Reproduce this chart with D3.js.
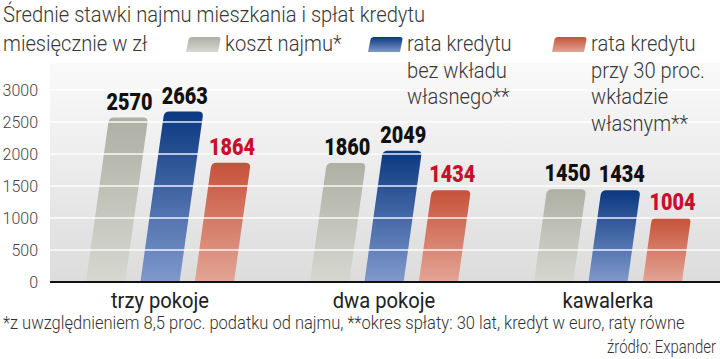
<!DOCTYPE html>
<html><head><meta charset="utf-8">
<script src="https://cdn.jsdelivr.net/npm/d3@7"></script>
<style>
body{margin:0;background:#fff;}
svg{display:block;}
text{font-family:Roboto,"Liberation Sans",sans-serif;font-weight:300;}
</style></head>
<body><svg id="c" width="720" height="359"></svg>
<script>
const categories = ["trzy pokoje", "dwa pokoje", "kawalerka"];
const seriesNames = ["koszt najmu*", "rata kredytu bez wkładu własnego**", "rata kredytu przy 30 proc. wkładzie własnym**"];
const rentValues = [2570, 1860, 1450];
const noDownValues = [2663, 2049, 1434];
const down30Values = [1864, 1434, 1004];
const yTicks = [0, 500, 1000, 1500, 2000, 2500, 3000];
const legendLines = [["koszt najmu*"], ["rata kredytu", "bez wkładu", "własnego**"], ["rata kredytu", "przy 30 proc.", "wkładzie", "własnym**"]];
const title1 = "Średnie stawki najmu mieszkania i spłat kredytu";
const title2 = "miesięcznie w zł";
const footnote = "*z uwzględnieniem 8,5 proc. podatku od najmu, **okres spłaty: 30 lat, kredyt w euro, raty równe";
const source = "źródło: Expander";

const series = [rentValues, noDownValues, down30Values];
const svg = d3.select("#c");
const baseY = 282;
const y = d3.scaleLinear().domain([0, 3000]).range([baseY, 90]);
const x0 = d3.scaleBand().domain(categories).range([48, 720]).paddingInner(0).paddingOuter(0);
const x1 = d3.scaleBand().domain(d3.range(3)).range([-74, 74]).paddingInner(0.28);
const k = 0.14;

function fit(sel, w) { sel.attr("textLength", w).attr("lengthAdjust", "spacingAndGlyphs"); }
function squeeze(sel, f) { sel.each(function () { const n = this.getComputedTextLength(); d3.select(this).attr("textLength", n * f).attr("lengthAdjust", "spacingAndGlyphs"); }); }
// horizontally scaled text placed via a transformed group
function scaledText(x, yy, str, size, width, anchor) {
  const g = svg.append("g");
  const t = g.append("text").attr("x", 0).attr("y", 0).attr("font-size", size).attr("fill", "#333")
    .attr("text-anchor", anchor).text(str);
  const n = t.node().getComputedTextLength();
  g.attr("transform", `translate(${x},${yy}) scale(${width / n},1)`);
  return t;
}

const grads = [["#aeb0a4", "#d6d7cf"], ["#0b3880", "#7f99cc"], ["#c6523a", "#e3a595"]];
const defs = svg.append("defs");
grads.forEach((g, i) => {
  const lg = defs.append("linearGradient").attr("id", "g" + i).attr("x1", 0).attr("y1", 0).attr("x2", 0).attr("y2", 1);
  lg.append("stop").attr("offset", 0).attr("stop-color", g[0]);
  lg.append("stop").attr("offset", 1).attr("stop-color", g[1]);
});
const bg = defs.append("linearGradient").attr("id", "bg").attr("x1", 0).attr("y1", 0).attr("x2", 0).attr("y2", 1);
bg.append("stop").attr("offset", 0).attr("stop-color", "#fafafa");
bg.append("stop").attr("offset", 1).attr("stop-color", "#dcdcdc");

// background panel
svg.append("rect").attr("x", 50).attr("y", 63).attr("width", 670).attr("height", baseY - 63).attr("fill", "url(#bg)");

// titles
const t1 = svg.append("text").attr("x", 3).attr("y", 22).attr("font-size", 22).attr("fill", "#383838").text(title1);
const natural = t1.node().getComputedTextLength();
const F = 422 / natural;
fit(t1, 422);
const t2 = svg.append("text").attr("x", 3).attr("y", 51).attr("font-size", 22).attr("fill", "#383838").text(title2);
squeeze(t2, F);

// bar path with rounded top, then sheared
function barPath(x, w, yt, yb, r) {
  r = Math.min(r, (yb - yt));
  return `M${x},${yb}L${x},${yt + r}Q${x},${yt} ${x + r},${yt}L${x + w - r},${yt}Q${x + w},${yt} ${x + w},${yt + r}L${x + w},${yb}Z`;
}
const bars = svg.append("g");
categories.forEach((c, ci) => {
  series.forEach((vals, si) => {
    const v = vals[ci];
    const bx = x0(c) + x0.bandwidth() / 2 + x1(si);
    const w = x1.bandwidth();
    const yt = y(v);
    bars.append("path")
      .attr("d", barPath(bx, w, yt, baseY, 5))
      .attr("fill", `url(#g${si})`)
      .attr("transform", `matrix(1,0,${-k},1,${k * baseY},0)`);
  });
});

// gridlines over bars
svg.append("g").selectAll("line").data(yTicks.filter(d => d > 0)).join("line")
  .attr("x1", 50).attr("x2", 720).attr("y1", d => y(d)).attr("y2", d => y(d))
  .attr("stroke", "#fff").attr("stroke-width", 1.5).attr("stroke-opacity", 0.9);

// value labels
categories.forEach((c, ci) => {
  series.forEach((vals, si) => {
    const v = vals[ci];
    const bx = x0(c) + x0.bandwidth() / 2 + x1(si);
    const w = x1.bandwidth();
    const yt = y(v);
    const cx = bx + w / 2 + k * (baseY - yt) + 1;
    const t = svg.append("text").attr("x", cx).attr("y", yt - 8).attr("text-anchor", "middle")
      .attr("font-size", 24).style("font-weight", 900).style("font-family", "Roboto, 'Liberation Sans', sans-serif")
      .attr("fill", si === 2 ? "#c8102e" : "#111").text(v);
    fit(t, 46);
  });
});

// y axis
const yAxis = d3.axisLeft(y).tickValues(yTicks).tickFormat(d3.format("d")).tickSize(0).tickPadding(0);
const ya = svg.append("g").attr("transform", "translate(38,0)").call(yAxis);
ya.select(".domain").remove();
ya.selectAll("text").attr("font-size", 16).attr("fill", "#444").attr("font-family", null);

// baseline
svg.append("line").attr("x1", 50).attr("x2", 720).attr("y1", baseY).attr("y2", baseY).attr("stroke", "#111").attr("stroke-width", 2);

// x axis labels
const xAxis = d3.axisBottom(x0).tickSize(0).tickPadding(0);
const xa = svg.append("g").attr("transform", `translate(0,${baseY})`).call(xAxis);
xa.select(".domain").remove();
xa.selectAll("text").attr("font-size", 22).attr("fill", "#222").attr("dy", null).attr("y", 26).attr("font-family", null)
  .style("font-weight", 400);
squeeze(xa.selectAll("text"), F);

// legend
const legendX = [186, 368, 552];
legendLines.forEach((lines, i) => {
  const g = svg.append("g");
  const sx = legendX[i], sw = 32, st = 37, sb = 52;
  g.append("path").attr("d", barPath(sx, sw, st, sb, 3))
    .attr("fill", `url(#g${i})`)
    .attr("transform", `matrix(1,0,-0.2,1,${0.2 * sb},0)`);
  lines.forEach((t, li) => {
    const tt = g.append("text").attr("x", sx + 39).attr("y", 51 + li * 26.5).attr("font-size", 22).attr("fill", "#383838").text(t);
    squeeze(tt, F);
  });
});

// footnote and source
scaledText(3, 329, footnote, 17.5, 682, "start");
scaledText(716, 353, source, 17.5, 109, "end");
</script></body></html>
